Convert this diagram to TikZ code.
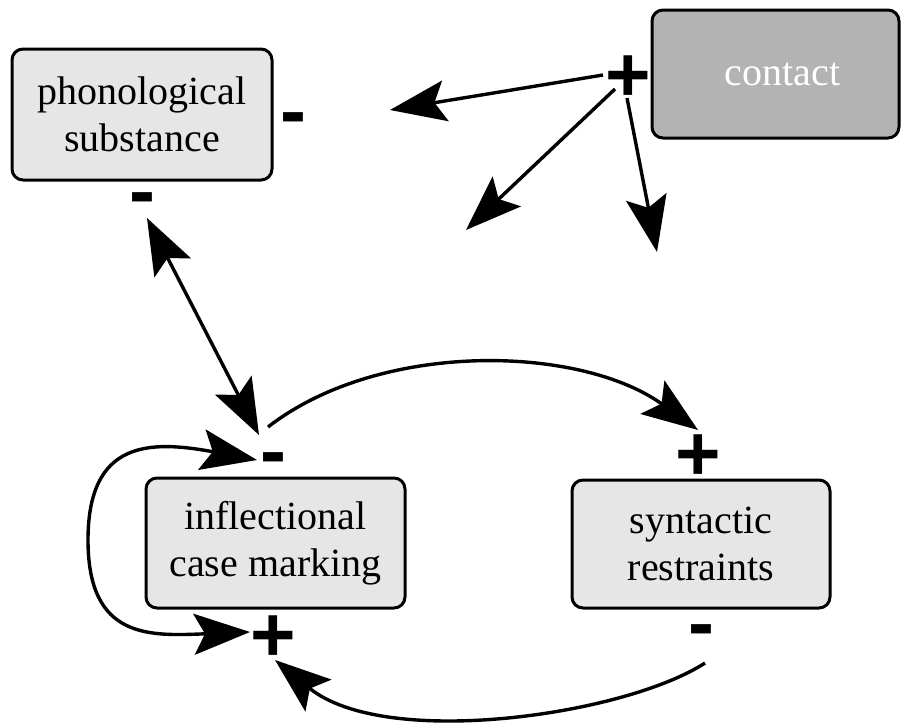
\documentclass[tikz,border=0pt]{standalone}
\usepackage{fontspec}
\setmainfont{Liberation Serif}
\setsansfont{Liberation Sans}
\usetikzlibrary{arrows.meta,calc}
\definecolor{boxfill}{HTML}{E6E6E6}
\definecolor{contactfill}{HTML}{B3B3B3}
\tikzset{
  boxnode/.style={draw=black, line width=3pt, rounded corners=11pt, fill=boxfill,
    align=center, font=\fontsize{40}{47}\selectfont, inner sep=0pt},
  signnode/.style={font=\sffamily\bfseries\fontsize{78}{78}\selectfont, inner sep=0pt, anchor=base},
  conn/.style={line width=3.4pt},
  tip/.tip={Stealth[length=56pt,width=41pt,inset=11pt]},
}
\begin{document}
\begin{tikzpicture}[x=1pt,y=-1pt]
\useasboundingbox (0,0) rectangle (901,723);
\clip (0,0) rectangle (901,723);
% boxes
\node[boxnode, minimum width=260pt, minimum height=131pt] (phon) at (142,114.5) {phonological\\substance};
\node[boxnode, minimum width=259pt, minimum height=130pt] (infl) at (275.5,543) {inflectional\\case marking};
\node[boxnode, minimum width=258pt, minimum height=128pt] (syn) at (701,544) {syntactic\\restraints};
\node[boxnode, fill=contactfill, text=white, minimum width=247pt, minimum height=128pt] (contact) at (775.5,74) {\hspace*{14pt}contact};
% signs
\node[signnode] (phR) at (293,137.5) {-};
\node[signnode] (phB) at (142,217.5) {-};
\node[signnode] (cplus) at (628,101) {+};
\node[signnode] (infT) at (273,477.5) {-};
\node[signnode] (infB) at (273,661) {+};
\node[signnode] (synT) at (698,480) {+};
\node[signnode] (synB) at (701,649.5) {-};
% free ends of contact arrows
\coordinate (c1) at (390,110);
\coordinate (c2) at (466,230);
\coordinate (c3) at (657,252);
% contact arrows
\draw[conn,-tip] ([shift={(-25,-26)}]cplus.base) -- (c1);
\draw[conn,-tip] ([shift={(-13,-12)}]cplus.base) -- (c2);
\draw[conn,-tip] ([shift={(-1,-3)}]cplus.base) -- (c3);
% double arrow phonological -- inflectional
\draw[conn,tip-tip] ([shift={(5,0.5)}]phB.base) -- ([shift={(-14,-42.5)}]infT.base);
% top curve inflectional -> syntactic
\draw[conn,-tip] ([shift={(-5,-50.5)}]infT.base) .. controls (380,340) and (580,345) .. ([shift={(0,-50)}]synT.base);
% bottom curve syntactic -> inflectional
\draw[conn,-tip] ([shift={(4,13.5)}]synB.base) .. controls (625,715) and (385,750) .. ([shift={(2,-1)}]infB.base);
% self loop
\draw[conn,tip-tip] ([shift={(-16,-17.5)}]infT.base) .. controls (150,440) and (88,440) .. (88,540)
  .. controls (88,640) and (150,636) .. ([shift={(-23,-29)}]infB.base);
\end{tikzpicture}
\end{document}
